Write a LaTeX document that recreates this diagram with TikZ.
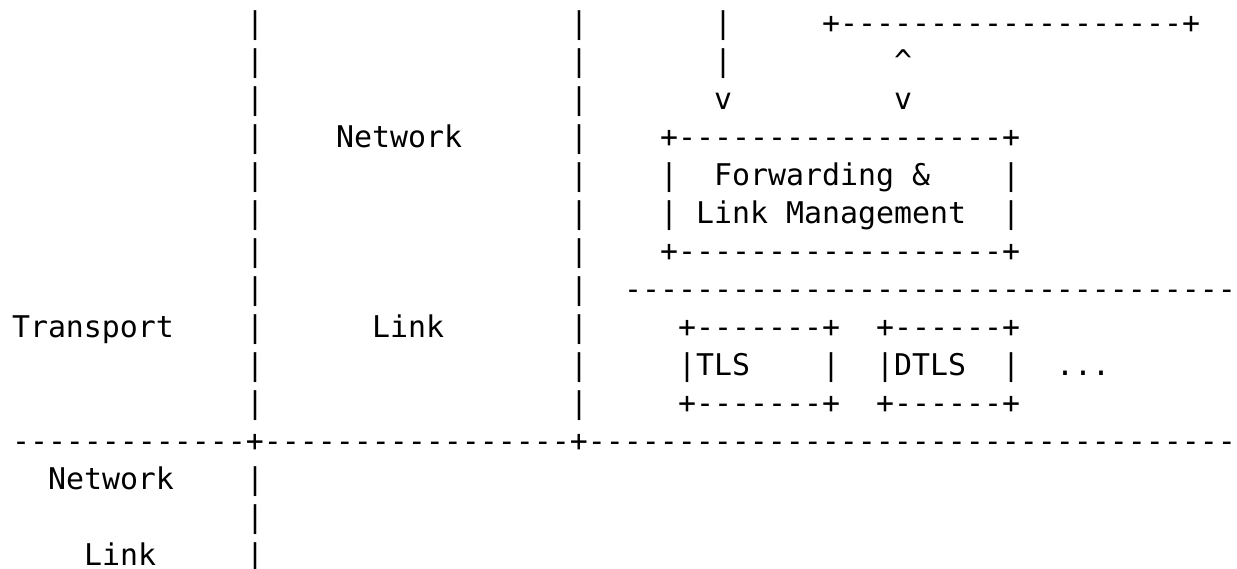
\documentclass[tikz,border=0pt]{standalone}
\usepackage{fontspec}
\setmonofont{DejaVu Sans Mono}
\usepackage{tikz}
\usetikzlibrary{positioning}
\tikzstyle{glyph}=[inner sep=0pt,outer sep=0pt,anchor=base west,font=\ttfamily\fontsize{14.95}{19}\selectfont]
\newcommand{\dashrun}[1]{\foreach \k in {1,...,#1}{-}}
\begin{document}
\begin{tikzpicture}[x=0.5pt,y=-0.5pt]
    \useasboundingbox (0,0) rectangle (1237,568);
    % one character cell is 18 wide, one text row is 38 high
    % First the two column bars of the upper part
    \foreach \r in {0,...,10}
        \node[glyph] (barA\r) at ({12+18*13},{33+38*\r}) {|};
    \foreach \r in {0,...,10}
        \node[glyph] (barB\r) at ({12+18*31},{33+38*\r}) {|};
    \foreach \r in {12,13,14}
        \node[glyph] (barA\r) at ({12+18*13},{33+38*\r}) {|};

    % Then the layer names
    \foreach \c/\r/\name/\txt in {18/3/netup/Network, 0/8/transport/Transport, 20/8/linkmid/Link,
                                  2/12/netlow/Network, 4/14/linklow/Link}
        \node[glyph] (\name) at ({12+18*\c},{33+38*\r}) {\txt};

    % Arrows into the forwarding box
    \foreach \c/\r/\name/\txt in {39/0/upa0/|, 39/1/upa1/|, 39/2/downa/v,
                                  49/1/upb/\textasciicircum, 49/2/downb/v}
        \node[glyph] (\name) at ({12+18*\c},{33+38*\r}) {\txt};

    % Boxes
    \node[glyph] (topbox) at ({12+18*45},{33+38*0}) {+\dashrun{19}+};
    \node[glyph] (fwdtop) at ({12+18*36},{33+38*3}) {+\dashrun{18}+};
    \foreach \c/\r/\name/\txt in {36/4/fwdl1/|, 39/4/fwdtxt/Forwarding \&, 55/4/fwdr1/|,
                                  36/5/fwdl2/|, 38/5/lmtxt/Link Management, 55/5/fwdr2/|}
        \node[glyph] (\name) at ({12+18*\c},{33+38*\r}) {\txt};
    \node[glyph] (fwdbot) at ({12+18*36},{33+38*6}) {+\dashrun{18}+};

    \node[glyph] (linkline) at ({12+18*34},{33+38*7}) {\dashrun{34}};

    \node[glyph] (tlstop) at ({12+18*37},{33+38*8}) {+\dashrun{7}+};
    \node[glyph] (dtlstop) at ({12+18*48},{33+38*8}) {+\dashrun{6}+};
    \foreach \c/\r/\name/\txt in {37/9/tls/|TLS, 45/9/tlsr/|, 48/9/dtls/|DTLS, 55/9/dtlsr/|}
        \node[glyph] (\name) at ({12+18*\c},{33+38*\r}) {\txt};
    \node[glyph] (more) at ({12+18*58},{33+38*9}) {...};
    \node[glyph] (tlsbot) at ({12+18*37},{33+38*10}) {+\dashrun{7}+};
    \node[glyph] (dtlsbot) at ({12+18*48},{33+38*10}) {+\dashrun{6}+};

    % the separator
    \node[glyph] (sep) at ({12+18*0},{33+38*11}) {\dashrun{13}+\dashrun{17}+\dashrun{36}};
\end{tikzpicture}
\end{document}
